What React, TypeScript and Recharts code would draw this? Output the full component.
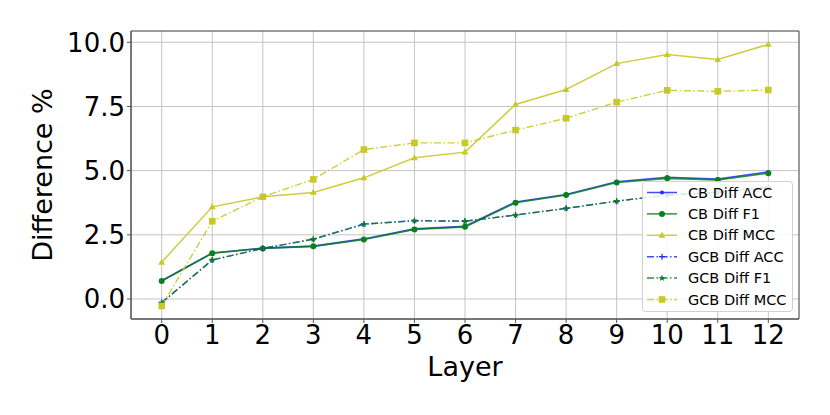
import React from 'react';
import { LineChart, Line, XAxis, YAxis, CartesianGrid, ReferenceArea } from 'recharts';

const layers = [0, 1, 2, 3, 4, 5, 6, 7, 8, 9, 10, 11, 12];

const cbAcc = [0.71, 1.79, 1.98, 2.06, 2.34, 2.73, 2.83, 3.78, 4.07, 4.57, 4.74, 4.67, 4.95];
const cbF1 = [0.7, 1.78, 1.97, 2.05, 2.32, 2.71, 2.81, 3.75, 4.05, 4.54, 4.7, 4.64, 4.9];
const cbMcc = [1.43, 3.59, 3.98, 4.15, 4.72, 5.5, 5.72, 7.58, 8.16, 9.17, 9.52, 9.33, 9.92];
const gcbAcc = [-0.14, 1.52, 1.97, 2.33, 2.92, 3.05, 3.03, 3.27, 3.53, 3.81, 4.05, 4.15, 4.35];
const gcbF1 = [-0.15, 1.52, 1.97, 2.33, 2.91, 3.05, 3.03, 3.27, 3.53, 3.81, 4.05, 4.15, 4.35];
const gcbMcc = [-0.27, 3.03, 3.98, 4.66, 5.82, 6.08, 6.08, 6.58, 7.04, 7.67, 8.13, 8.09, 8.14];

const yTicks = [0, 2.5, 5, 7.5, 10];

const data = layers.map((layer, i) => ({
  layer,
  cbAcc: cbAcc[i],
  cbF1: cbF1[i],
  cbMcc: cbMcc[i],
  gcbAcc: gcbAcc[i],
  gcbF1: gcbF1[i],
  gcbMcc: gcbMcc[i],
}));

const BLUE = '#1f2bff';
const GREEN = '#0a7f1a';
const YELLOW = '#c8c828';
const DASHDOT = '7 2.5 1.5 2.5';

type Marker = 'point' | 'circle' | 'triangle' | 'plus' | 'star' | 'square';

const drawMarker = (kind: Marker, cx: number, cy: number, color: string, key?: string) => {
  switch (kind) {
    case 'point':
      return <circle key={key} cx={cx} cy={cy} r={2} fill={color} />;
    case 'circle':
      return <circle key={key} cx={cx} cy={cy} r={3} fill={color} />;
    case 'triangle':
      return <polygon key={key} points={`${cx},${cy - 3.6} ${cx - 3.4},${cy + 2.4} ${cx + 3.4},${cy + 2.4}`} fill={color} />;
    case 'plus':
      return (
        <path key={key} d={`M${cx - 3},${cy}H${cx + 3}M${cx},${cy - 3}V${cy + 3}`} stroke={color} strokeWidth={1.2} />
      );
    case 'star': {
      const pts: string[] = [];
      for (let k = 0; k < 10; k++) {
        const r = k % 2 === 0 ? 3.6 : 1.5;
        const a = -Math.PI / 2 + (k * Math.PI) / 5;
        pts.push(`${cx + r * Math.cos(a)},${cy + r * Math.sin(a)}`);
      }
      return <polygon key={key} points={pts.join(' ')} fill={color} />;
    }
    case 'square':
      return <rect key={key} x={cx - 3.3} y={cy - 3.3} width={6.6} height={6.6} fill={color} />;
  }
};

const dotFor = (kind: Marker, color: string) => (props: any) =>
  drawMarker(kind, props.cx, props.cy, color, `${kind}-${props.index}`) as any;

const legendItems: { name: string; color: string; dash?: string; marker: Marker }[] = [
  { name: 'CB Diff ACC', color: BLUE, marker: 'point' },
  { name: 'CB Diff F1', color: GREEN, marker: 'circle' },
  { name: 'CB Diff MCC', color: YELLOW, marker: 'triangle' },
  { name: 'GCB Diff ACC', color: BLUE, dash: DASHDOT, marker: 'plus' },
  { name: 'GCB Diff F1', color: GREEN, dash: DASHDOT, marker: 'star' },
  { name: 'GCB Diff MCC', color: YELLOW, dash: DASHDOT, marker: 'square' },
];

const LegendBox = () => (
  <svg width={151} height={131} style={{ position: 'absolute', left: 642, top: 181, display: 'block' }}>
    <rect x={0.5} y={0.5} width={150} height={130} rx={3} fill="rgba(255,255,255,0.85)" stroke="#d0d0d0" />
    {legendItems.map((it, i) => {
      const y = 11.5 + i * 21.4;
      return (
        <g key={it.name}>
          <line x1={5} x2={35} y1={y} y2={y} stroke={it.color} strokeWidth={1.5} strokeDasharray={it.dash} strokeOpacity={0.85} />
          {drawMarker(it.marker, 20, y, it.color)}
          <text x={46} y={y} dominantBaseline="central" fontSize={14.5} fontFamily="DejaVu Sans" fill="#000">
            {it.name}
          </text>
        </g>
      );
    })}
  </svg>
);

const YLabel = (props: any) => {
  const vb = props.viewBox || {};
  const cx = 42.5;
  const cy = vb.y + vb.height / 2;
  return (
    <text x={cx} y={cy} transform={`rotate(-90 ${cx} ${cy})`} textAnchor="middle" dominantBaseline="central" fontSize={27} fontFamily="DejaVu Sans" fill="#000">
      Difference %
    </text>
  );
};

const tickStyle = { fontSize: 26, fill: '#000', fontFamily: 'DejaVu Sans' };

const App = () => {
  return (
    <div style={{ position: 'absolute', left: 0, top: 0, width: 830, height: 415, background: '#fff' }}>
      <LineChart width={830} height={415} data={data} margin={{ top: 31, right: 31, left: 51, bottom: 0 }}>
        <CartesianGrid stroke="#c4c4c4" strokeWidth={1} />
        <XAxis
          type="number"
          dataKey="layer"
          domain={[-0.607, 12.607]}
          ticks={layers}
          allowDataOverflow
          height={96}
          tick={tickStyle}
          tickSize={4}
          tickMargin={3}
          stroke="#555"
          tickLine={{ stroke: '#555' }}
          label={{ value: 'Layer', position: 'insideBottom', offset: 39, fontSize: 27, fill: '#000', fontFamily: 'DejaVu Sans' }}
        />
        <YAxis
          type="number"
          domain={[-0.78, 10.44]}
          ticks={yTicks}
          allowDataOverflow
          width={80}
          tick={tickStyle}
          tickSize={4}
          tickMargin={2}
          stroke="#555"
          tickLine={{ stroke: '#555' }}
          tickFormatter={(v: number) => v.toFixed(1)}
          label={<YLabel />}
        />
        <ReferenceArea x1={-0.607} x2={12.607} y1={-0.78} y2={10.44} fill="none" stroke="#555" strokeWidth={1} ifOverflow="visible" />
        <Line dataKey="cbAcc" stroke={BLUE} strokeWidth={1.6} strokeOpacity={0.85} dot={dotFor('point', BLUE)} isAnimationActive={false} />
        <Line dataKey="cbF1" stroke={GREEN} strokeWidth={1.6} strokeOpacity={0.85} dot={dotFor('circle', GREEN)} isAnimationActive={false} />
        <Line dataKey="cbMcc" stroke={YELLOW} strokeWidth={1.5} strokeOpacity={0.9} dot={dotFor('triangle', YELLOW)} isAnimationActive={false} />
        <Line dataKey="gcbAcc" stroke={BLUE} strokeWidth={1.4} strokeOpacity={0.8} strokeDasharray={DASHDOT} dot={dotFor('plus', BLUE)} isAnimationActive={false} />
        <Line dataKey="gcbF1" stroke={GREEN} strokeWidth={1.4} strokeOpacity={0.8} strokeDasharray={DASHDOT} dot={dotFor('star', GREEN)} isAnimationActive={false} />
        <Line dataKey="gcbMcc" stroke={YELLOW} strokeWidth={1.4} strokeOpacity={0.9} strokeDasharray={DASHDOT} dot={dotFor('square', YELLOW)} isAnimationActive={false} />
      </LineChart>
      <LegendBox />
    </div>
  );
};

export default App;
